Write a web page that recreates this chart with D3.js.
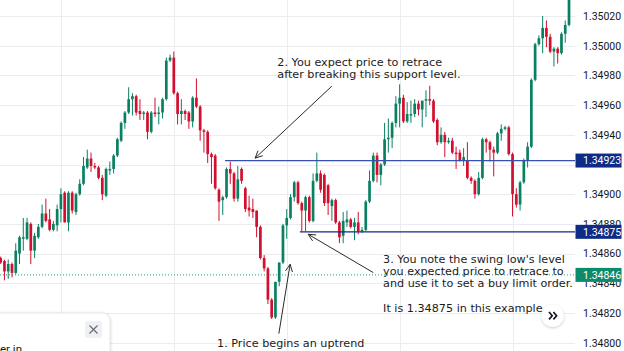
<!DOCTYPE html>
<html><head><meta charset="utf-8">
<script src="https://cdn.jsdelivr.net/npm/d3@7"></script>
<style>html,body{margin:0;padding:0;background:#fff;overflow:hidden}svg{display:block}</style>
</head><body>
<svg id="c" width="624" height="351"></svg>
<script>
// ---------- data ----------
const open = [1.34857,1.34855,1.34848,1.34853,1.34847,1.34860,1.34870,1.34870,1.34880,1.34862,
1.34871,1.34878,1.34887,1.34883,1.34876,1.34879,1.34890,1.34901,1.34881,1.34901,
1.34888,1.34900,1.34907,1.34918,1.34924,1.34919,1.34918,1.34911,1.34899,1.34916,
1.34917,1.34926,1.34936,1.34948,1.34955,1.34964,1.34966,1.34956,1.34954,1.34955,
1.34942,1.34955,1.34954,1.34955,1.34964,1.34990,1.34992,1.34968,1.34954,1.34956,
1.34955,1.34949,1.34965,1.34959,1.34943,1.34942,1.34927,1.34926,1.34903,1.34896,
1.34898,1.34917,1.34914,1.34897,1.34917,1.34904,1.34891,1.34890,1.34889,1.34878,
1.34857,1.34850,1.34829,1.34817,1.34841,1.34854,1.34879,1.34884,1.34898,1.34908,
1.34894,1.34889,1.34898,1.34882,1.34909,1.34914,1.34913,1.34906,1.34892,1.34896,
1.34881,1.34872,1.34881,1.34883,1.34878,1.34881,1.34875,1.34876,1.34895,1.34909,
1.34926,1.34913,1.34920,1.34937,1.34938,1.34948,1.34961,1.34965,1.34949,1.34953,
1.34954,1.34961,1.34957,1.34963,1.34964,1.34963,1.34950,1.34935,1.34940,1.34935,
1.34936,1.34928,1.34928,1.34923,1.34923,1.34911,1.34909,1.34900,1.34911,1.34937,
1.34935,1.34930,1.34928,1.34941,1.34944,1.34945,1.34927,1.34900,1.34893,1.34908,
1.34923,1.34932,1.34977,1.35001,1.35005,1.35012,1.35006,1.34996,1.34998,1.34995,
1.35008,1.35014];
const high = [1.34858,1.34856,1.34856,1.34854,1.34867,1.34872,1.34884,1.34884,1.34881,1.34874,
1.34880,1.34893,1.34897,1.34890,1.34882,1.34893,1.34904,1.34902,1.34902,1.34902,
1.34901,1.34910,1.34925,1.34930,1.34928,1.34921,1.34919,1.34913,1.34918,1.34922,
1.34927,1.34938,1.34949,1.34956,1.34972,1.34968,1.34967,1.34964,1.34956,1.34956,
1.34956,1.34965,1.34959,1.34965,1.34992,1.34994,1.34996,1.34969,1.34964,1.34957,
1.34956,1.34966,1.34978,1.34960,1.34944,1.34943,1.34928,1.34927,1.34904,1.34899,
1.34918,1.34922,1.34915,1.34919,1.34918,1.34905,1.34899,1.34897,1.34889,1.34879,
1.34859,1.34851,1.34830,1.34841,1.34854,1.34880,1.34890,1.34900,1.34909,1.34909,
1.34895,1.34899,1.34899,1.34914,1.34928,1.34916,1.34914,1.34907,1.34897,1.34897,
1.34882,1.34888,1.34889,1.34884,1.34884,1.34888,1.34878,1.34896,1.34916,1.34928,
1.34928,1.34921,1.34948,1.34951,1.34949,1.34966,1.34974,1.34967,1.34962,1.34963,
1.34964,1.34963,1.34963,1.34970,1.34973,1.34964,1.34951,1.34945,1.34942,1.34938,
1.34938,1.34932,1.34930,1.34931,1.34935,1.34912,1.34910,1.34915,1.34938,1.34938,
1.34936,1.34932,1.34942,1.34947,1.34946,1.34946,1.34928,1.34904,1.34909,1.34924,
1.34935,1.34978,1.35002,1.35007,1.35020,1.35017,1.35008,1.34999,1.34999,1.35009,
1.35017,1.35041];
const low = [1.34853,1.34842,1.34843,1.34844,1.34846,1.34853,1.34862,1.34869,1.34853,1.34857,
1.34870,1.34877,1.34881,1.34875,1.34875,1.34875,1.34881,1.34881,1.34875,1.34887,
1.34886,1.34899,1.34906,1.34917,1.34915,1.34917,1.34910,1.34896,1.34898,1.34913,
1.34914,1.34925,1.34935,1.34944,1.34954,1.34953,1.34953,1.34950,1.34950,1.34937,
1.34941,1.34952,1.34947,1.34951,1.34963,1.34989,1.34967,1.34947,1.34947,1.34950,
1.34944,1.34945,1.34958,1.34936,1.34928,1.34921,1.34907,1.34903,1.34882,1.34886,
1.34897,1.34907,1.34895,1.34895,1.34907,1.34888,1.34885,1.34884,1.34871,1.34856,
1.34848,1.34826,1.34816,1.34816,1.34838,1.34853,1.34870,1.34883,1.34895,1.34893,
1.34875,1.34875,1.34881,1.34881,1.34908,1.34901,1.34892,1.34886,1.34882,1.34880,
1.34867,1.34867,1.34878,1.34877,1.34869,1.34873,1.34874,1.34875,1.34894,1.34908,
1.34908,1.34906,1.34919,1.34928,1.34931,1.34945,1.34945,1.34948,1.34948,1.34948,
1.34952,1.34953,1.34945,1.34952,1.34960,1.34948,1.34933,1.34934,1.34925,1.34934,
1.34927,1.34917,1.34922,1.34919,1.34910,1.34907,1.34897,1.34899,1.34910,1.34928,
1.34922,1.34912,1.34927,1.34936,1.34943,1.34926,1.34885,1.34891,1.34889,1.34907,
1.34918,1.34931,1.34976,1.35000,1.34995,1.34999,1.34995,1.34986,1.34988,1.34994,
1.35002,1.35013];
const close = [1.34854,1.34848,1.34853,1.34847,1.34862,1.34871,1.34871,1.34881,1.34862,1.34872,
1.34878,1.34887,1.34882,1.34876,1.34880,1.34890,1.34900,1.34881,1.34901,1.34889,
1.34900,1.34907,1.34919,1.34924,1.34919,1.34918,1.34911,1.34900,1.34917,1.34917,
1.34926,1.34937,1.34948,1.34955,1.34964,1.34966,1.34955,1.34954,1.34955,1.34942,
1.34955,1.34954,1.34955,1.34964,1.34990,1.34992,1.34968,1.34954,1.34956,1.34954,
1.34949,1.34965,1.34959,1.34943,1.34942,1.34927,1.34925,1.34904,1.34895,1.34898,
1.34917,1.34914,1.34897,1.34910,1.34909,1.34890,1.34889,1.34888,1.34878,1.34857,
1.34850,1.34829,1.34817,1.34841,1.34854,1.34879,1.34884,1.34898,1.34908,1.34894,
1.34889,1.34898,1.34882,1.34909,1.34914,1.34903,1.34894,1.34894,1.34896,1.34881,
1.34871,1.34882,1.34883,1.34878,1.34881,1.34875,1.34876,1.34895,1.34909,1.34926,
1.34913,1.34920,1.34937,1.34938,1.34948,1.34961,1.34965,1.34949,1.34954,1.34954,
1.34961,1.34957,1.34963,1.34964,1.34963,1.34949,1.34935,1.34940,1.34935,1.34936,
1.34928,1.34927,1.34923,1.34925,1.34911,1.34909,1.34900,1.34911,1.34937,1.34935,
1.34930,1.34928,1.34941,1.34944,1.34945,1.34927,1.34900,1.34893,1.34908,1.34923,
1.34932,1.34977,1.35001,1.35005,1.35012,1.35006,1.34996,1.34998,1.34995,1.35008,
1.35014,1.35036];
const bars = d3.range(open.length);                 // bar index (time axis hidden)
const gridPrices = [1.34800,1.34820,1.34840,1.34860,1.34880,1.34900,1.34920,1.34940,1.34960,1.34980,1.35000,1.35020];
const priceTicks = [1.34800,1.34820,1.34840,1.34860,1.34880,1.34900,1.34940,1.34960,1.34980,1.35000,1.35020]; // 1.34920 hidden by tag
const timeGridBars = [16,46,76,106,136];
const levelPrices = [1.34923, 1.34875];            // drawn horizontal levels
const levelStartBar = [59.6, 79.5];
const lastPrice = 1.34846;
// annotations anchored to (bar, price)
const noteLines = [
  ["2. You expect price to retrace","after breaking this support level."],
  ["3. You note the swing low's level","you expected price to retrace to","and use it to set a buy limit order.","","It is 1.34875 in this example."],
  ["1. Price begins an uptrend"]
];
const noteAnchor = [[73.5,1.349864],[101.6,1.348539],[57.5,1.347971]];
const arrowFrom = [[88.0,1.349728],[99.0,1.348472],[73.9,1.348061]];
const arrowTo   = [[67.6,1.349243],[81.7,1.348730],[76.9,1.348528]];

// ---------- drawing ----------
const W = 624, H = 351, plotR = 575;
const UP = "#0a8062", DOWN = "#d10f2e";
const svg = d3.select("#c");
const defs = svg.append("defs");
defs.append("clipPath").attr("id","plot").append("rect").attr("x",0).attr("y",0).attr("width",plotR).attr("height",H);
const sh = defs.append("filter").attr("id","sh").attr("x","-50%").attr("y","-50%").attr("width","200%").attr("height","200%");
sh.append("feDropShadow").attr("dx",0).attr("dy",1).attr("stdDeviation",1.6).attr("flood-color","#000").attr("flood-opacity",0.22);

const x = d3.scaleLinear().domain([0, bars.length-1]).range([0.7, 569]);
const y = d3.scaleLinear().domain([1.34800, 1.35020]).range([342.7, 16.0]);

// grid
const grid = svg.append("g").attr("clip-path","url(#plot)");
grid.selectAll("line.h").data(gridPrices).join("line")
  .attr("x1",0).attr("x2",plotR).attr("y1",d=>Math.round(y(d))+0.5).attr("y2",d=>Math.round(y(d))+0.5)
  .attr("stroke","#ebecef").attr("stroke-width",1);
grid.selectAll("line.v").data(timeGridBars).join("line")
  .attr("x1",d=>Math.round(x(d))+0.5).attr("x2",d=>Math.round(x(d))+0.5).attr("y1",0).attr("y2",H)
  .attr("stroke","#ebecef").attr("stroke-width",1);

// last price dotted line
svg.append("line").attr("x1",0).attr("x2",plotR).attr("y1",y(lastPrice)+0.5).attr("y2",y(lastPrice)+0.5)
  .attr("stroke","#1a9c85").attr("stroke-width",1).attr("stroke-dasharray","1,2");

// candles
const cg = svg.append("g").attr("clip-path","url(#plot)");
const col = i => close[i] >= open[i] ? UP : DOWN;
cg.selectAll("line.wick").data(bars).join("line")
  .attr("x1",i=>x(i)).attr("x2",i=>x(i)).attr("y1",i=>y(high[i])).attr("y2",i=>y(low[i]))
  .attr("stroke",col).attr("stroke-width",1);
cg.selectAll("rect.body").data(bars).join("rect")
  .attr("x",i=>x(i)-1.35).attr("width",2.7)
  .attr("y",i=>y(Math.max(open[i],close[i])))
  .attr("height",i=>Math.max(1, Math.abs(y(open[i])-y(close[i]))))
  .attr("fill",col);

// level lines
const levelColors = ["#3450b0","#12298a"];
svg.selectAll("line.lvl").data(levelPrices).join("line")
  .attr("x1",(d,i)=>x(levelStartBar[i])).attr("x2",plotR)
  .attr("y1",d=>y(d)+0.5).attr("y2",d=>y(d)+0.5)
  .attr("stroke",(d,i)=>levelColors[i]).attr("stroke-width",1.2);

// price axis
const fmt = d3.format(".5f");
const ax = svg.append("g").attr("transform",`translate(${plotR},0)`)
  .call(d3.axisRight(y).tickValues(priceTicks).tickFormat(fmt).tickSize(0).tickPadding(8));
ax.select(".domain").remove();
ax.selectAll("text").attr("fill","#131722").style("font-family","Roboto, 'Liberation Sans', sans-serif").style("font-size","10.5px");

// price tags
const tags = [
  {p: levelPrices[0], c: "#0e2c86"},
  {p: levelPrices[1], c: "#0e2c86"},
  {p: lastPrice, c: "#0c8a6c"}
];
const tg = svg.append("g");
tg.selectAll("rect").data(tags).join("rect")
  .attr("x",plotR+0.5).attr("width",46).attr("y",d=>y(d.p)-6.5).attr("height",14).attr("fill",d=>d.c);
tg.selectAll("text").data(tags).join("text")
  .attr("x",plotR+8).attr("y",d=>y(d.p)+0.5).attr("dy","0.35em")
  .attr("fill","#fff").style("font-family","Roboto, 'Liberation Sans', sans-serif").style("font-size","10.5px")
  .text(d=>fmt(d.p));

// annotation arrows
const ag = svg.append("g").attr("stroke","#2a2a2a").attr("stroke-width",1).attr("fill","none");
arrowFrom.forEach((f,k)=>{
  const x1 = x(f[0]), y1 = y(f[1]), x2 = x(arrowTo[k][0]), y2 = y(arrowTo[k][1]);
  ag.append("line").attr("x1",x1).attr("y1",y1).attr("x2",x2).attr("y2",y2);
  const a = Math.atan2(y1-y2, x1-x2), L = 8, s = 0.45;
  ag.append("path").attr("d",
    `M${x2+L*Math.cos(a+s)},${y2+L*Math.sin(a+s)}L${x2},${y2}L${x2+L*Math.cos(a-s)},${y2+L*Math.sin(a-s)}`);
});

// annotation texts
noteLines.forEach((lines,k)=>{
  const t = svg.append("text").attr("x",x(noteAnchor[k][0])).attr("y",y(noteAnchor[k][1]))
    .attr("fill","#1c1c1c").style("font-family","'DejaVu Sans', Verdana, sans-serif").style("font-size","11.2px");
  lines.forEach((ln,j)=>{
    t.append("tspan").attr("x",x(noteAnchor[k][0])).attr("dy", j===0?0:12.4).text(ln===""?"\u00a0":ln);
  });
});

// bottom-left info panel
const pan = svg.append("g");
pan.append("rect").attr("x",-12).attr("y",313).attr("width",122).attr("height",60).attr("rx",7)
  .attr("fill","#fff").attr("stroke","#e3e5ea").attr("filter","url(#sh)");
pan.append("rect").attr("x",85).attr("y",321).attr("width",17).attr("height",17).attr("rx",3).attr("fill","#eef0f4");
pan.append("path").attr("d","M89.5,325.5L97.5,333.5M97.5,325.5L89.5,333.5").attr("stroke","#6b6e78").attr("stroke-width",1.2);
pan.append("text").attr("x",0).attr("y",352.5).attr("fill","#131722")
  .style("font-family","Roboto, sans-serif").style("font-size","11.5px").text("er in");

// scroll-to-realtime button
const btn = svg.append("g");
btn.append("circle").attr("cx",552.7).attr("cy",315.7).attr("r",11).attr("fill","#fff").attr("filter","url(#sh)");
btn.append("path").attr("d","M549,312L552.2,315.7L549,319.4M553.4,312L556.6,315.7L553.4,319.4")
  .attr("stroke","#131722").attr("stroke-width",1.7).attr("fill","none");
</script>
</body></html>
